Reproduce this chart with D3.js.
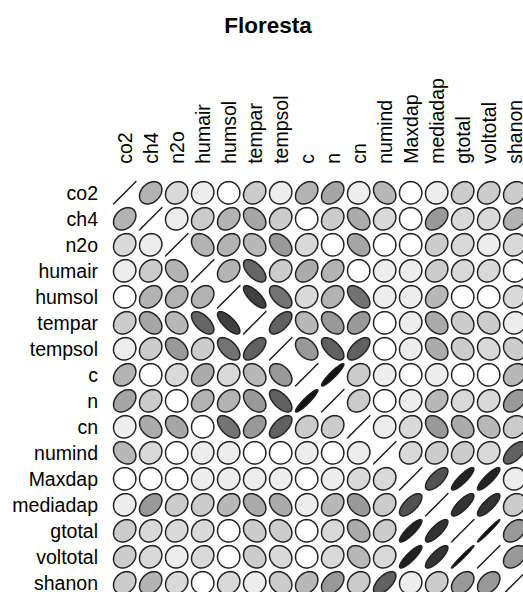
<!DOCTYPE html>
<html>
<head>
<meta charset="utf-8">
<script src="https://cdn.jsdelivr.net/npm/d3@7"></script>
<style>
  body { margin: 0; background: #fff; }
  svg { display: block; }
  text { font-family: "Liberation Sans", Arial, Helvetica, sans-serif; fill: #000; }
</style>
</head>
<body>
<script>
// Variables of the correlation matrix (row and column order)
const variables = ["co2", "ch4", "n2o", "humair", "humsol", "tempar", "tempsol",
  "c", "n", "cn", "numind", "Maxdap", "mediadap", "gtotal", "voltotal", "shanon"];

// Lower triangle of the correlation matrix, one array per row
const lowerTriangle = [
  [],
  [0.30],
  [0.15, 0.07],
  [0.07, 0.20, -0.30],
  [0.00, 0.30, 0.30, 0.30],
  [0.20, -0.35, -0.28, -0.60, -0.75],
  [0.07, 0.20, -0.40, 0.20, -0.55, 0.62],
  [0.30, 0.00, 0.15, 0.33, 0.15, -0.28, -0.40],
  [0.35, 0.20, 0.00, 0.30, 0.30, -0.40, -0.62, 0.93],
  [0.07, -0.33, -0.35, 0.00, -0.55, 0.40, 0.62, 0.20, 0.20],
  [-0.28, 0.15, 0.00, 0.07, 0.07, 0.00, 0.00, 0.07, 0.00, 0.07],
  [0.00, 0.00, 0.00, 0.07, 0.07, 0.07, 0.07, 0.00, 0.07, 0.15, 0.15],
  [0.07, 0.40, 0.20, 0.20, 0.28, -0.33, -0.33, 0.07, 0.28, -0.40, 0.20, 0.68],
  [0.20, 0.15, 0.15, 0.15, 0.00, -0.20, -0.20, 0.00, 0.15, -0.33, 0.20, 0.87, 0.80],
  [0.20, 0.15, 0.07, 0.15, 0.00, -0.20, -0.15, 0.00, 0.15, -0.28, 0.15, 0.87, 0.80, 0.985],
  [0.20, 0.30, 0.15, 0.00, 0.15, 0.07, -0.20, 0.28, 0.40, 0.20, 0.62, 0.07, 0.20, 0.40, 0.40]
];

const chartTitle = "Floresta";

// Full symmetric matrix built from the lower triangle
const nVar = variables.length;
const corr = variables.map((_, i) => variables.map((_, j) => {
  if (i === j) return 1;
  return i > j ? lowerTriangle[i][j] : lowerTriangle[j][i];
}));

const W = 523, H = 592, cell = 26;
const plotLeft = 111.7, plotTop = 179.8;

// User coordinates: column j at x = j, row i at y = nVar + 1 - i (y grows upward)
const x = d3.scaleLinear().domain([0.5, nVar + 0.5]).range([plotLeft, plotLeft + nVar * cell]);
const y = d3.scaleLinear().domain([0.5, nVar + 0.5]).range([plotTop + nVar * cell, plotTop]);
const grey = d3.scaleLinear().domain([0, 1]).range([255, 0]);

const svg = d3.select("body").append("svg")
  .attr("width", W).attr("height", H);

svg.append("text")
  .attr("x", 268).attr("y", 33)
  .attr("text-anchor", "middle")
  .style("font-weight", "bold")
  .style("font-size", "22.5px")
  .text(chartTitle);

// Row labels, right-aligned one cell left of the first column
svg.append("g").selectAll("text")
  .data(variables)
  .join("text")
  .attr("x", x(0) - 0.7)
  .attr("y", (d, i) => y(nVar - i) + 7.3)
  .attr("text-anchor", "end")
  .style("font-size", "19.5px")
  .text(d => d);

// Column labels, rotated and starting one cell above the first row
svg.append("g").selectAll("text")
  .data(variables)
  .join("text")
  .attr("transform", (d, j) => `translate(${x(j + 1) + 7.3},${y(nVar + 1) - 3}) rotate(-90)`)
  .attr("text-anchor", "start")
  .style("font-size", "19.5px")
  .text(d => d);

// Ellipse outline for correlation r (ellipse with t = 0.43, as in plotcorr)
const t = 0.43, npts = 100;
function ellipsePoints(r) {
  const d = Math.acos(Math.max(-1, Math.min(1, r)));
  return d3.range(npts).map(k => {
    const a = 2 * Math.PI * k / (npts - 1);
    return [t * Math.cos(a + d / 2), t * Math.cos(a - d / 2)];
  });
}

const cells = [];
corr.forEach((row, i) => row.forEach((r, j) => cells.push({ i, j, r })));

const g = svg.append("g");
g.selectAll("path")
  .data(cells)
  .join("path")
  .attr("d", c => {
    const cx = c.j + 1, cy = nVar - c.i;
    const line = d3.line().x(p => x(cx + p[0])).y(p => y(cy + p[1]));
    return line(ellipsePoints(c.r)) + "Z";
  })
  .attr("fill", c => {
    const v = Math.round(grey(Math.abs(c.r)));
    return d3.rgb(v, v, v).formatHex();
  })
  .attr("stroke", "#222")
  .attr("stroke-width", 1.5)
  .attr("stroke-linejoin", "round");
</script>
</body>
</html>
